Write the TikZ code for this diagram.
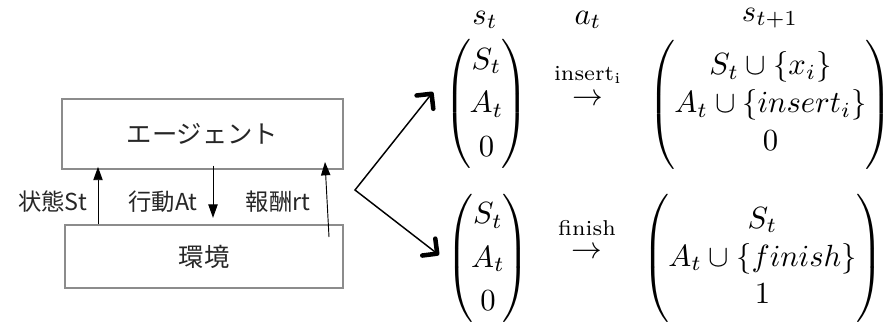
\documentclass[tikz,border=0pt]{standalone}
\usepackage{amsmath}
\usepackage{graphicx}
\usepackage{fontspec}
\newfontfamily\jp{Noto Sans CJK JP}
\usetikzlibrary{arrows.meta}
\newcommand{\enlg}[1]{\scalebox{2.3}{#1}}
\newcommand{\parmat}[5]{\scalebox{2.3}{$\renewcommand\arraystretch{#1}\left(\rule[-19.1pt]{0pt}{43.5pt}\begin{array}{@{\hspace{#2}}c@{\hspace{#2}}}#3\\#4\\#5\end{array}\right)$}}
\begin{document}
\begin{tikzpicture}[x=0.75pt,y=-0.75pt,
  box/.style={draw=black!45, line width=0.8pt, inner sep=0pt, font=\jp\fontsize{19}{22}\selectfont, text=black!85},
  lab/.style={inner sep=0pt, font=\jp\fontsize{17.5}{20}\selectfont, text=black!85},
  flow/.style={line width=0.7pt, -{Triangle[length=10pt,width=7pt]}},
  fork/.style={line width=1.1pt, {Straight Barb[length=8pt,width=16pt,line width=3.4pt,round]}-{Straight Barb[length=8pt,width=16pt,line width=3.4pt,round]}},
  mat/.style={inner sep=0pt}
]
\useasboundingbox (0,0) rectangle (891,326);
% left diagram
\node[box, minimum width=210.75pt, minimum height=52.5pt] (agent) at (202.5,134) {エージェント};
\node[box, minimum width=208.5pt, minimum height=47.25pt] (env) at (204,256.5) {\raisebox{-2pt}{環境}};
\node[lab] (lst) at (52.5,202) {状態St};
\node[lab] (lat) at (163,202) {行動At};
\node[lab] (lrt) at (278,202) {報酬rt};
\coordinate (stx) at (98,0);
\coordinate (atx) at (213,0);
\coordinate (r1) at (329,237);
\coordinate (r2) at (325,162);
\draw[flow] (env.north -| stx) -- ([yshift=2pt]agent.south -| stx);
\draw[flow] ([yshift=3pt]agent.south -| atx) -- ([yshift=5pt]env.north -| atx);
\draw[flow] (r1) -- (r2);
% fork
\coordinate (fork) at (355,190);
\coordinate (t1) at (433,92);
\coordinate (t2) at (439,255);
\draw[fork] (t1) -- (fork) -- (t2);
% matrices
\node[mat] (ls) at (485,20) {\enlg{$s_t$}};
\node[mat] (la) at (588,20) {\enlg{$a_t$}};
\node[mat] (ls1) at (770,18) {\enlg{$s_{t+1}$}};
\node[mat] (m1) at (486.5,103.5) {\parmat{1.18}{-0.7pt}{S_t}{A_t}{0}};
\node[mat] (m2) at (770.5,104.5) {\parmat{1.03}{-0.2pt}{S_t\cup\{x_i\}}{A_t\cup\{insert_i\}}{0}};
\node[mat] (m3) at (488,258) {\parmat{1.18}{-0.7pt}{S_t}{A_t}{0}};
\node[mat] (m4) at (762.5,258) {\parmat{1.03}{-0.2pt}{S_t}{A_t\cup\{finish\}}{1}};
\node[mat] (ins) at (588,75) {\enlg{\scriptsize insert\textsubscript{i}}};
\node[mat] (ar1) at (588,100) {\enlg{$\rightarrow$}};
\node[mat] (fin) at (587,228) {\enlg{\scriptsize finish}};
\node[mat] (ar2) at (587,253) {\enlg{$\rightarrow$}};
\end{tikzpicture}
\end{document}
